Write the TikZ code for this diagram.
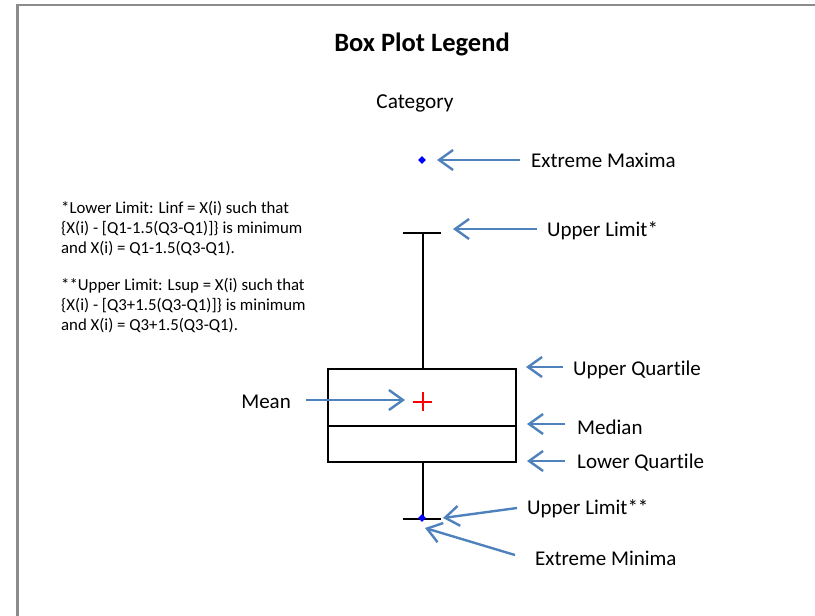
\documentclass[tikz,border=0pt]{standalone}
\usepackage{fontspec}
\setmainfont{Carlito}[Ligatures={NoCommon}]
\usetikzlibrary{arrows.meta,shapes.geometric}
\definecolor{arrowblue}{HTML}{4F81BD}
\definecolor{framegray}{HTML}{8C8C8C}
\tikzset{
  lbl/.style={font=\fontsize{21}{25}\selectfont, anchor=west, inner sep=0pt},
  note/.style={font=\fontsize{16.8}{20}\selectfont, anchor=north west, align=left, inner sep=0pt},
  pointer/.style={draw=arrowblue, line width=2.4pt, -{Straight Barb[length=14pt,width=20pt,line width=2.4pt]}},
  plotline/.style={draw=black, line width=2pt},
  dot/.style={fill=blue, diamond, inner sep=0pt, minimum size=8pt},
  meanmark/.style={draw=red, line width=2pt}
}
\begin{document}
\begin{tikzpicture}[x=1pt,y=-1pt]
\useasboundingbox (0,0) rectangle (815,616);
\fill[white] (0,0) rectangle (815,616);
\draw[framegray, line width=2.5pt] (17.5,616) -- (17.5,5) -- (815,5);

\node[font=\fontsize{26.5}{30}\selectfont\bfseries, inner sep=0pt] (title) at (422,44) {Box Plot Legend};
\node[font=\fontsize{21.3}{25}\selectfont, inner sep=0pt] (cat) at (415,103) {Category};

% notes
\node[note] (n1) at (61,201) {*Lower Limit: Linf = X(i) such that\\\{X(i) - [Q1-1.5(Q3-Q1)]\} is minimum\\and X(i) = Q1-1.5(Q3-Q1).};
\node[note] (n2) at (61,278) {**Upper Limit: Lsup = X(i) such that\\\{X(i) - [Q3+1.5(Q3-Q1)]\} is minimum\\and X(i) = Q3+1.5(Q3-Q1).};

% box plot geometry
\coordinate (uc) at (423,233);
\coordinate (bt) at (423,369);
\coordinate (bb) at (423,462);
\coordinate (lc) at (423,519);
\draw[plotline] (403,233) -- (441,233);
\draw[plotline] (uc) -- (bt);
\draw[plotline] (328,369) rectangle (516,462);
\draw[plotline] (328,426) -- (516,426);
\draw[plotline] (bb) -- (lc);
\draw[plotline] (403,519) -- (441,519);

\node[dot] (emax) at (422,160) {};
\node[dot] (emin) at (422,518) {};
\coordinate (mean) at (422.5,401.5);
\draw[meanmark] ([xshift=-9.5pt]mean) -- ([xshift=9.5pt]mean);
\draw[meanmark] ([yshift=-9.5pt]mean) -- ([yshift=9.5pt]mean);

% labels
\node[lbl] (lemax) at (531,160) {Extreme Maxima};
\node[lbl] (lul) at (547,231) {Upper Limit*};
\node[lbl] (luq) at (573,370) {Upper Quartile};
\node[lbl] (lmed) at (577,427) {Median};
\node[lbl] (llq) at (577,463) {Lower Quartile};
\node[lbl] (lul2) at (527,509) {Upper Limit**};
\node[lbl] (lemin) at (535,558) {Extreme Minima};
\node[lbl, anchor=east] (lmean) at (291,402) {Mean};

% pointer coordinates
\coordinate (t1) at (520,160); \coordinate (h1) at (437,160);
\coordinate (t2) at (537,229); \coordinate (h2) at (453,229);
\coordinate (t3) at (563,367); \coordinate (h3) at (526,367);
\coordinate (t4) at (565,424); \coordinate (h4) at (527,424);
\coordinate (t5) at (565,461); \coordinate (h5) at (527,461);
\coordinate (t6) at (517,508); \coordinate (h6) at (443,518);
\coordinate (t7) at (515,555); \coordinate (h7) at (425,528);
\coordinate (t8) at (306,400); \coordinate (h8) at (405,400);
\draw[pointer] (t1) -- (h1);
\draw[pointer] (t2) -- (h2);
\draw[pointer] (t3) -- (h3);
\draw[pointer] (t4) -- (h4);
\draw[pointer] (t5) -- (h5);
\draw[pointer] (t6) -- (h6);
\draw[pointer] (t7) -- (h7);
\draw[pointer] (t8) -- (h8);
\end{tikzpicture}
\end{document}
